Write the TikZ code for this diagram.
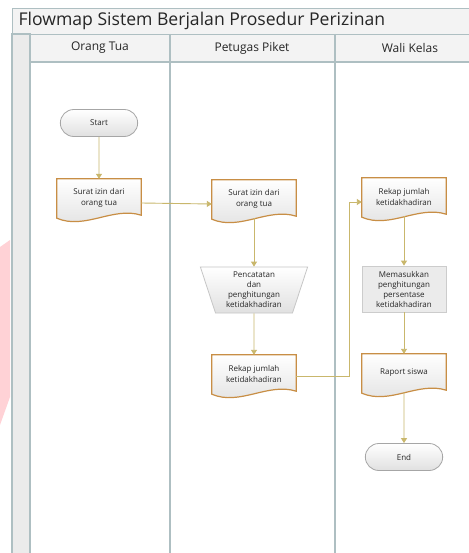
\documentclass[tikz,border=0pt]{standalone}
\usepackage{fontspec}
\setmainfont{Open Sans}
\usetikzlibrary{shapes.misc,shapes.geometric,arrows.meta}
\definecolor{laneline}{HTML}{AEBFC2}
\definecolor{bandfill}{HTML}{F3F3F3}
\definecolor{stripfill}{HTML}{EBEBEB}
\definecolor{docedge}{HTML}{C88E45}
\definecolor{flowline}{HTML}{C9B76C}
\definecolor{txt}{HTML}{262626}
\definecolor{wmpink}{HTML}{FFD2D6}
\pgfdeclarelayer{back}
\pgfdeclarelayer{shapes}
\pgfsetlayers{back,shapes,main}
% document outline with wavy bottom, drawn round a named node
\newcommand{\docwave}[1]{%
  \draw[draw=docedge, line width=1.2pt, top color=white, bottom color=stripfill!90!gray]
    (#1.north west) -- (#1.north east) -- ([shift={(0,-2)}]#1.south east)
    .. controls ([shift={(-28,-11)}]#1.south east) and ([shift={(28,13)}]#1.south west)
    .. ([shift={(0,1)}]#1.south west) -- cycle;}
\begin{document}
\begin{tikzpicture}[x=1pt,y=-1pt,
    docbox/.style={rectangle, minimum width=84pt, minimum height=38pt, align=center, text=txt,
        font=\fontsize{8}{10.5}\selectfont, inner sep=1pt},
    termbox/.style={rounded rectangle, draw=gray!70, line width=0.8pt, top color=white,
        bottom color=stripfill!90!gray, minimum width=84pt, minimum height=27pt,
        text=txt, font=\fontsize{8}{10.5}\selectfont},
    manualbox/.style={trapezium, shape border rotate=180, trapezium angle=73, trapezium stretches=true,
        draw=gray!45, line width=0.8pt, top color=white, bottom color=stripfill!90!gray,
        minimum width=108pt, minimum height=46pt, align=center, text=txt,
        font=\fontsize{8}{10}\selectfont, inner sep=0pt},
    procbox/.style={rectangle, draw=gray!40, line width=0.8pt, fill=stripfill,
        minimum width=84pt, minimum height=46pt, align=center, text=txt,
        font=\fontsize{8}{10}\selectfont, inner sep=1pt},
    flow/.style={draw=flowline, line width=0.9pt, -{Triangle[width=6pt,length=5pt]}}]
    \useasboundingbox (0,0) rectangle (468,553);

    \begin{pgfonlayer}{back}
    % watermark piece
    \fill[wmpink] (0,247) -- (10,240) -- (10,397) -- (0,425) -- cycle;

    % swimlane frame
    \draw[laneline, fill=bandfill] (12,8) rectangle (490,34);
    \draw[laneline, fill=bandfill] (12,34) rectangle (490,62);
    \draw[laneline, line width=1.2pt, fill=stripfill] (12,34) rectangle (30,570);
    \fill[white] (31,63) rectangle (490,570);
    \draw[laneline, line width=1.5pt] (30,62) -- (490,62);
    \draw[laneline, line width=1.5pt] (170,34) -- (170,570);
    \draw[laneline, line width=1.5pt] (335,34) -- (335,570);
    \end{pgfonlayer}

    \node[anchor=west, text=txt, font=\fontsize{17.6}{20}\selectfont] (title) at (15,21) {Flowmap Sistem Berjalan Prosedur Perizinan};
    \node[text=txt, font=\fontsize{12}{14}\selectfont] (laneA) at (100,48) {Orang Tua};
    \node[text=txt, font=\fontsize{12}{14}\selectfont] (laneB) at (252,48) {Petugas Piket};
    \node[text=txt, font=\fontsize{12}{14}\selectfont] (laneC) at (410,48) {Wali Kelas};

    % Orang Tua
    \node[termbox] (start) at (99,123) {Start};
    \node[docbox] (suratA) at (99,198) {Surat izin dari\\orang tua};

    % Petugas Piket
    \node[docbox] (suratB) at (254,199) {Surat izin dari\\orang tua};
    \node[manualbox] (catat) at (254,290) {Pencatatan\\dan\\penghitungan\\ketidakhadiran};
    \node[docbox] (rekapA) at (254,374) {Rekap jumlah\\ketidakhadiran};

    % Wali Kelas
    \node[docbox] (rekapB) at (404,197) {Rekap jumlah\\ketidakhadiran};
    \node[procbox] (masuk) at (404,289) {Memasukkan\\penghitungan\\persentase\\ketidakhadiran};
    \node[docbox] (raport) at (404,373) {Raport siswa};
    \node[termbox] (end) at (404,457) {End};

    \begin{pgfonlayer}{shapes}
        \docwave{suratA}
        \docwave{suratB}
        \docwave{rekapA}
        \docwave{rekapB}
        \docwave{raport}
    \end{pgfonlayer}

    % connectors
    \draw[flow] (start) -- (suratA);
    \draw[flow] ([yshift=-5pt]suratA.east) -- ([yshift=-5pt]suratB.west);
    \draw[flow] (suratB) -- (catat);
    \draw[flow] (catat) -- (rekapA);
    \draw[flow] ([yshift=-2pt]rekapA.east) -| ([xshift=-12pt,yshift=-5pt]rekapB.west) -- ([yshift=-5pt]rekapB.west);
    \draw[flow] (rekapB) -- (masuk);
    \draw[flow] (masuk) -- (raport);
    \draw[flow] (raport) -- (end);
\end{tikzpicture}
\end{document}
